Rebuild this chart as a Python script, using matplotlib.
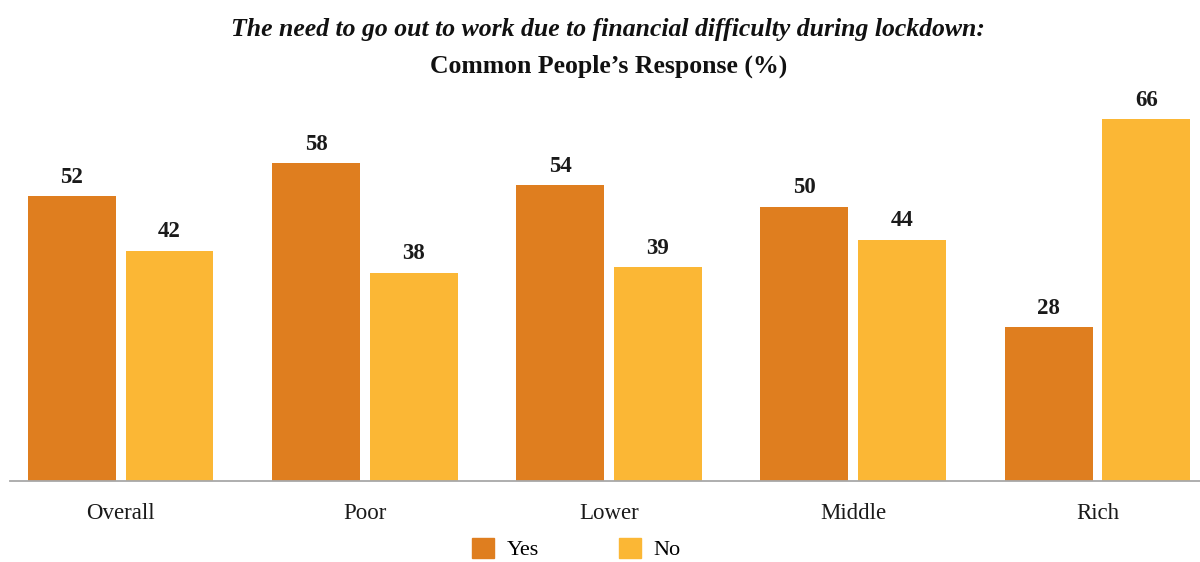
import numpy as np
import matplotlib
matplotlib.use("Agg")
import matplotlib.pyplot as plt
from matplotlib.patches import Patch

# Survey results (%)
groups = ["Overall", "Poor", "Lower", "Middle", "Rich"]
yes_vals = [52, 58, 54, 50, 28]
no_vals = [42, 38, 39, 44, 66]

yes_color = "#DF7E1F"
no_color = "#FBB735"

plt.rcParams["font.family"] = ["Liberation Serif", "DejaVu Serif"]

fig = plt.figure(figsize=(12, 5.62), dpi=100)
ax = fig.add_axes([10 / 1200, 1 - 481 / 562, 1190 / 1200, 384 / 562])

x = np.arange(len(groups))
w = 0.36
off = 0.2
bars_yes = ax.bar(x - off, yes_vals, w, color=yes_color)
bars_no = ax.bar(x + off, no_vals, w, color=no_color)

for bars in (bars_yes, bars_no):
    for b in bars:
        h = b.get_height()
        ax.text(b.get_x() + b.get_width() / 2, h + 1.5, f"{h:g}",
                ha="center", va="bottom", fontsize=16.5, fontweight="bold",
                color="#1a1a1a")

ax.set_xlim(-0.453, 4.42)
ax.set_ylim(0, 70)
ax.set_xticks(x)
ax.set_xticklabels(groups, fontsize=16.5, color="#1a1a1a")
ax.tick_params(axis="x", length=0, pad=16)
ax.set_yticks([])
for s in ["top", "right", "left"]:
    ax.spines[s].set_visible(False)
ax.spines["bottom"].set_color("#A8A8A8")
ax.spines["bottom"].set_linewidth(1.3)

fig.text(0.507, 0.947, "The need to go out to work due to financial difficulty during lockdown:",
         ha="center", va="center", fontsize=18.5, fontweight="bold", style="italic",
         color="#111111")
fig.text(0.507, 0.882, "Common People\u2019s Response (%)",
         ha="center", va="center", fontsize=18.5, fontweight="bold", color="#111111")

handles = [Patch(color=yes_color, label="Yes"), Patch(color=no_color, label="No")]
fig.legend(handles=handles, loc="center", bbox_to_anchor=(0.48, 0.023),
           ncol=2, frameon=False, fontsize=16, handlelength=1.0, handleheight=1.0,
           columnspacing=3.6, handletextpad=0.55)

fig.savefig("out.png", dpi=100)
